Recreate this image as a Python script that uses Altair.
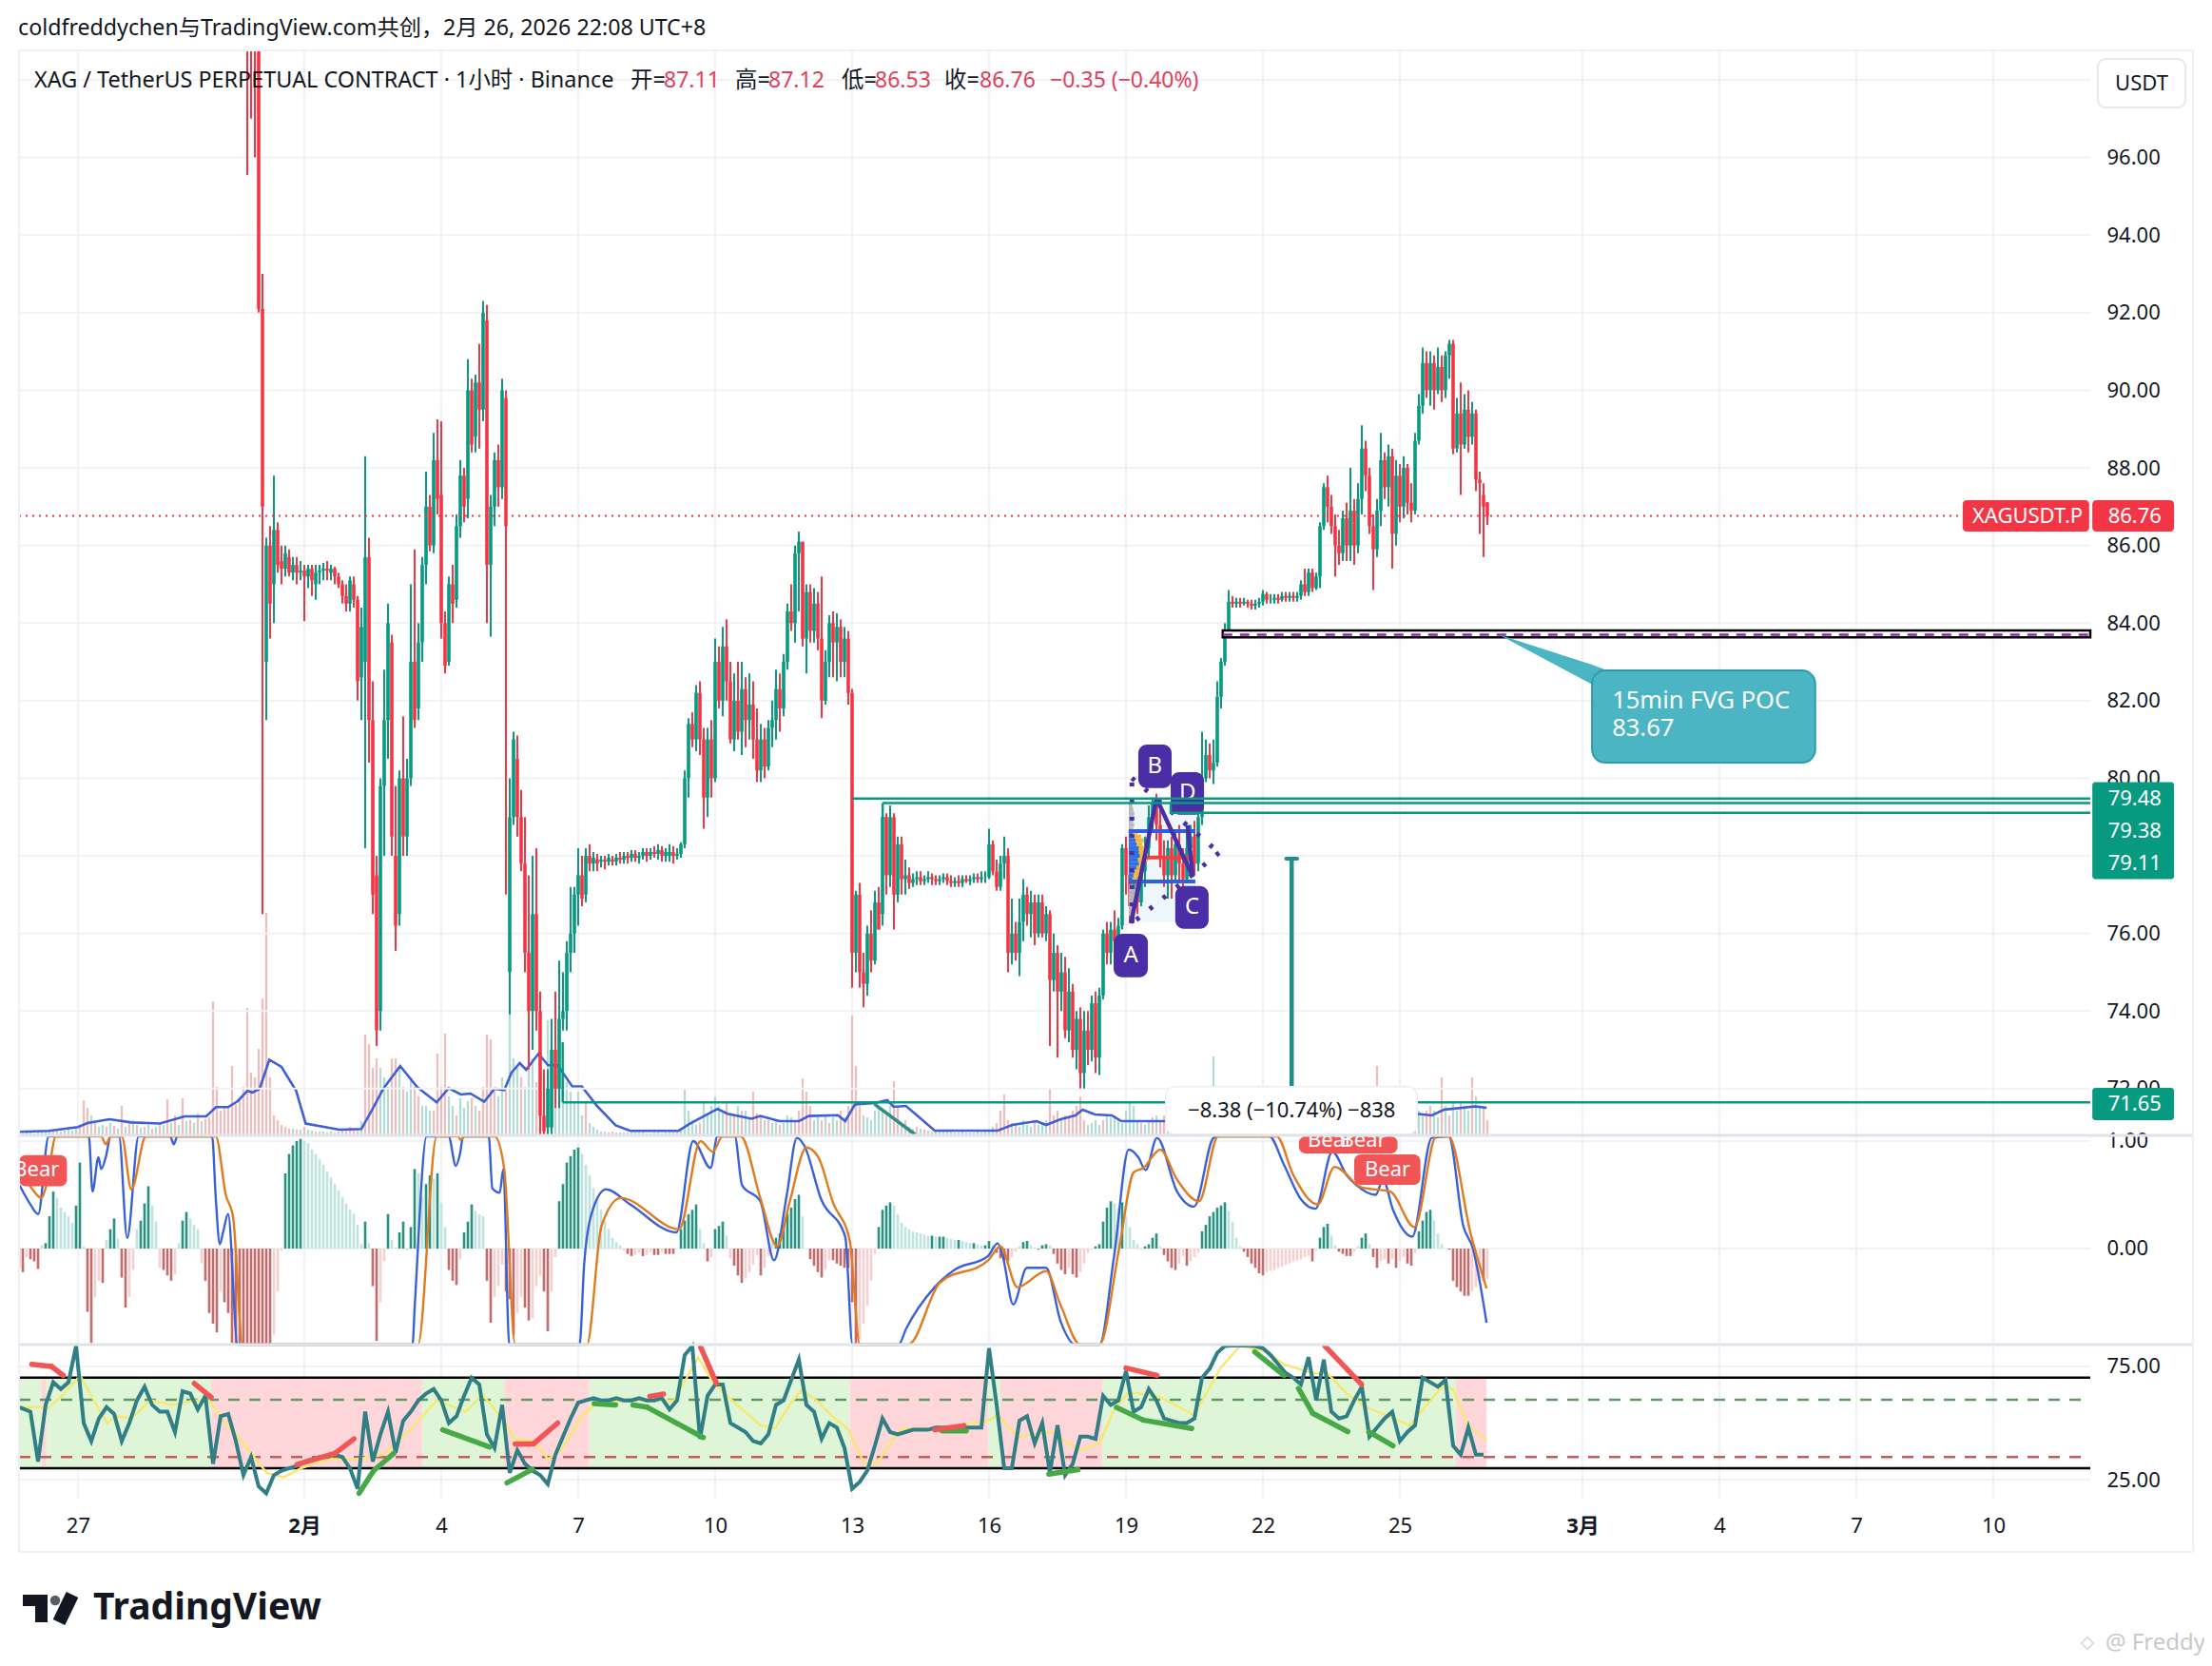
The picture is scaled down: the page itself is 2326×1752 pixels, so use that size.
import altair as alt
import pandas as pd

FONT = "Noto Sans, Noto Sans CJK SC"
UP, DOWN = "#089981", "#f23645"
TEAL = "#089981"

# ---- candles: one (open, close, low, high) every two hours, by calendar day
jan30 = [(106,100,95.55,112),(105,101,97,110),(104,99,96,108)]
jan31 = [(99,92.1,92,104),(92.1,87,76.5,93),(83,86,81.5,86.2),(86,84.5,83.6,86.5),(85,86.4,84,87.8),(86.4,85.5,85.3,86.6),(85.6,85.4,85,86),(85.4,85.8,85.2,86),(85.7,85.3,85.2,85.9),(85.3,85.5,85.1,85.7),(85.5,85.3,85,85.7),(85.3,85.35,85.1,85.6)]
feb01 = [(85.35,85.2,84.05,85.5),(85.2,85.4,84.9,85.5),(85.4,85.1,84.7,85.5),(85,85.3,84.6,85.5),(85.3,85.35,85,85.5),(85.35,85.4,85.1,85.55),(85.4,85.35,85.1,85.6),(85.3,85.4,85.1,85.5),(85.4,85.2,85,85.45),(85.2,85,84.9,85.3),(85,84.7,84.5,85.1),(84.7,84.5,84.3,85)]
feb02 = [(84.5,85.1,84.3,85.2),(85,84.6,84.4,85.2),(84.6,82.5,82,84.7),(82.6,83.9,81.5,84.4),(83,85.7,78.2,88.3),(85.7,81.5,80.4,86.2),(81.5,77,76.5,82.5),(77.5,73.5,73.1,78),(74,79.8,73.5,80),(79.8,81.5,78,82.8),(81.5,84,80.5,84.5),(83.5,78.5,78,83.7)]
feb03 = [(78,76.2,75.55,79.8),(76.5,80,76.2,80.2),(80,78.5,78,81.6),(78.5,80,78,80.5),(80,83,79.8,85),(83,81.5,81.3,85.9),(81.8,83.5,81.5,84),(83.5,85.5,83,85.7),(85.5,87,85,87.9),(87,86,85.85,87.3),(86,88.2,85.8,88.9),(88.2,87.2,86.8,89.25)]
feb04 = [(87.3,84,83.6,89.2),(84,82.9,82.7,84.3),(83,85,82.9,85.2),(85,84.5,84,85.5),(84.6,86.5,84.4,86.8),(86.5,87.8,86.2,88.2),(87.8,87,86.6,88),(87.2,90,86.7,90.8),(90,88.6,88.4,90.3),(88.8,90.2,88.4,90.4),(90.2,89.5,88.5,91.2),(89.5,92,89.2,92.3)]
feb05 = [(91.8,85.5,84,92.2),(85.5,87,83.65,87.3),(87,88.2,86.5,88.4),(88.2,87.5,87,88.6),(87.5,90,87.2,90.3),(89.8,86.5,77,90),(75,79,73.9,80),(79,81,78.8,81.2),(80.5,79,78.5,81.1),(79,77.8,77.6,79.7),(77.8,75.5,75,79),(75.5,74,72.5,77.5)]
feb06 = [(74,76.5,73,78),(76.5,74,73.5,78.2),(74,71.3,70,74.5),(71.3,70.9,70,72.5),(71,72,70.5,72.5),(71,73,70.5,73.8),(73,72,71.5,74.5),(72,73.8,71.5,75.3),(73.8,74,73.5,75),(74,75.5,73.5,75.8),(75.5,76,75,77.2),(76,77,75.5,77.2)]
feb07 = [(77,77.5,76.2,78.2),(77.5,76.9,76.7,78),(77,78,76.8,78.2),(78,77.8,77.6,78.3),(77.8,77.95,77.6,78.1),(77.9,77.8,77.6,78.05),(77.85,77.9,77.7,78),(77.9,77.85,77.65,78),(77.85,77.95,77.75,78.05),(77.9,77.85,77.75,78),(77.85,77.95,77.75,78.05),(77.95,77.9,77.8,78.1)]
feb08 = [(77.9,78,77.8,78.1),(78,77.95,77.8,78.1),(77.95,78.05,77.85,78.15),(78.05,77.95,77.85,78.15),(77.95,78,77.8,78.1),(78,78.1,77.9,78.2),(78.1,78,77.85,78.2),(78,78.1,77.9,78.2),(78.1,78.05,77.95,78.25),(78.05,78.15,77.9,78.3),(78.15,78,77.85,78.25),(78,78.1,77.85,78.2)]
feb09 = [(78,78.1,77.85,78.3),(78.1,78,77.8,78.25),(78,78.05,77.9,78.2),(78.05,78.3,77.95,78.35),(78.3,80,78.2,80.2),(80,81.4,79.5,81.55),(81.4,81,80.8,81.7),(81,82.2,80.7,82.4),(82.2,81,80.6,82.5),(81,79.5,78.7,81.3),(79.5,81,79,81.3),(81,80,79.5,81.5)]
feb10 = [(80,83,79.9,83.6),(83,82,81.8,83.4),(82,83.4,81.6,83.9),(83.4,82.5,82,84.1),(82.5,81,80.9,83),(81,82,80.7,82.7),(82,81.2,81,83),(81.2,82.3,80.6,83),(82.3,81.5,80.8,82.6),(81.5,81.9,81,82.7),(81.9,81,80.5,82.5),(81,80.2,79.9,81.8)]
feb11 = [(80.2,81,79.9,81.4),(81,80.3,80,81.3),(80.3,81.3,80.2,81.5),(81.3,81.5,80.8,82),(81.5,82.3,81,82.8),(82.3,81.8,81.2,82.7),(81.8,83,81.6,83.2),(83,84.3,82.8,84.5),(84.3,84,83.8,85),(84,85.8,83.5,86),(85.8,86.1,84.3,86.36),(86.1,83.6,83.4,86)]
feb12 = [(83.6,84.8,82.7,85),(84.8,83.8,83.5,85),(83.8,84.5,83.5,84.9),(84.5,83.6,83.3,84.8),(83.6,82,81.55,85.2),(82,83,81.9,83.3),(83,84,82.6,84.2),(84,83.5,82.6,84.3),(83.5,83.9,82.5,84.25),(83.9,83,82.6,84.1),(83,83.6,82.6,83.9),(83.6,82.2,81.9,83.8)]
feb13 = [(82.2,75.5,74.6,82.3),(75.5,77,75,77.1),(77,75,74.6,77.3),(75,74.7,74.1,75.5),(74.7,76,74.4,76.2),(76,75.3,75,76.6),(75.3,76.8,75.2,77.1),(76.8,76.1,76.1,77.2),(76.5,79,76.2,79.35),(79,77.5,77,79.1),(77.5,79,77.2,79.3),(79,77,76.1,79.1)]
feb14 = [(77,78.3,76.8,78.5),(78.3,77.4,77,78.5),(77.4,77.5,77,77.9),(77.5,77.3,77.15,77.7),(77.3,77.4,77.2,77.55),(77.4,77.45,77.25,77.6),(77.45,77.35,77.25,77.6),(77.35,77.4,77.25,77.5),(77.4,77.45,77.3,77.6),(77.45,77.4,77.25,77.55),(77.4,77.35,77.25,77.5),(77.35,77.4,77.25,77.5)]
feb15 = [(77.4,77.45,77.3,77.55),(77.45,77.35,77.25,77.55),(77.35,77.3,77.2,77.5),(77.3,77.35,77.2,77.45),(77.35,77.3,77.2,77.5),(77.3,77.4,77.2,77.5),(77.4,77.35,77.3,77.5),(77.35,77.4,77.25,77.5),(77.4,77.45,77.3,77.55),(77.45,77.4,77.3,77.55),(77.4,77.45,77.3,77.6),(77.45,77.45,77.3,77.6)]
feb16 = [(77.45,78.3,77.4,78.7),(78.3,77.6,77.5,78.4),(77.6,77.2,77.1,77.9),(77.2,77.8,77.1,78),(77.8,78,77.4,78.5),(78,75.5,75,78.2),(75.5,76,75.2,76.9),(76,75.5,75.3,76.3),(75.5,76.3,74.9,76.9),(76.3,77,75.8,77.4),(77,76.5,76.2,77.2),(76.5,76.8,75.9,77.1)]
feb17 = [(76.8,76,75.7,77),(76,76.8,75.9,77),(76.8,76,75.9,77),(76,76.5,75.8,76.7),(76.5,74.8,73.1,76.6),(74.8,75.5,74.5,76),(75.5,74.5,72.8,75.7),(74.5,75,74,75.5),(75,73.5,73.3,75.4),(73.5,74.5,73.2,75.1),(74.5,73,72.8,74.7),(73,73.8,72.5,74)]
feb18 = [(73.8,72.4,72,74.1),(72.4,73.5,72,74),(73.5,73,72.6,74),(73,74.2,72.7,74.4),(74.2,72.8,72.4,74.5),(72.8,74.4,72.35,74.6),(74.4,76,74.3,76.1),(76,75.5,75.2,76.3),(75.5,76.1,75.2,76.3),(76.1,75.8,75.3,76.6),(75.8,76.2,75.5,76.4),(76.2,78.2,76.1,78.3)]
feb19 = [(78.2,77.5,77,78.5),(77.5,76.7,76.3,78),(76.7,77.4,76.3,77.7),(77.4,76.8,76.5,77.8),(76.8,77.6,76.7,78),(77.6,78.2,77.2,78.5),(78.2,79,78,79.3),(79,79.4,78.6,79.5),(79.4,78.8,78.4,79.6),(78.8,78,77.7,79.2),(78,77.5,77.2,78.4),(77.5,78.2,76.9,78.4)]
feb20 = [(78.2,77.5,76.9,78.5),(77.5,78.3,77.3,78.6),(78.3,77.8,77.3,78.8),(77.8,77.4,77.1,78.2),(77.4,78.2,77.3,78.6),(78.2,78.5,77.5,78.8),(78.5,77.8,77.5,78.9),(77.8,79,77.6,79.2),(79,80,78.8,81.2),(80,80.6,79.9,81),(80.6,80.2,80,80.9),(80.2,80.4,79.85,81)]
feb21 = [(80.4,82.1,80.3,82.5),(82.1,83,81.8,83.1),(83,83.8,82.9,84),(83.8,84.55,83.7,84.85),(84.55,84.5,84.4,84.7),(84.5,84.55,84.4,84.65),(84.55,84.5,84.4,84.65),(84.5,84.55,84.45,84.65),(84.55,84.5,84.4,84.6),(84.5,84.45,84.35,84.6),(84.45,84.5,84.35,84.6),(84.5,84.55,84.4,84.65)]
feb22 = [(84.55,84.75,84.45,84.85),(84.75,84.6,84.5,84.8),(84.6,84.6,84.5,84.75),(84.6,84.65,84.5,84.75),(84.65,84.6,84.5,84.75),(84.6,84.7,84.55,84.8),(84.7,84.65,84.55,84.8),(84.65,84.7,84.55,84.8),(84.7,84.65,84.55,84.8),(84.65,84.7,84.55,84.8),(84.7,85,84.6,85.1),(85,84.8,84.7,85.4)]
feb23 = [(84.8,85.3,84.7,85.4),(85.3,84.9,84.8,85.4),(84.9,85.2,84.85,85.3),(85.2,86.5,84.9,86.6),(86.5,87.5,86.4,87.6),(87.5,87,86.6,87.8),(87,86.5,86.3,87.3),(86.5,86,85.2,86.8),(86,85.8,85.5,86.4),(85.8,86.7,85.6,86.9),(86.7,86,85.6,87.1),(86,86.9,85.6,88)]
feb24 = [(86.9,86,85.5,87.2),(86,87.2,85.8,87.6),(87.2,88.5,86.8,89.1),(88.5,87.8,87.4,88.7),(87.8,86.5,86.3,88),(86.5,85.9,84.85,86.8),(85.9,86.9,85.7,87.2),(86.9,88.2,86.5,88.9),(88.2,87.5,87.2,88.4),(87.5,88.3,87,88.6),(88.3,86.3,85.4,88.5),(86.3,87.8,86,88.2)]
feb25 = [(87.8,87,86.6,88.1),(87,88,86.7,88.3),(88,87.1,86.8,88.1),(87.1,86.9,86.6,87.6),(86.9,88.7,86.8,88.9),(88.7,89.6,88.6,89.9),(89.6,90.7,89.4,91.1),(90.7,90,89.8,91),(90,90.7,89.6,91),(90.7,90,89.5,90.9),(90,90.6,89.9,91.1),(90.6,90,89.7,90.9)]
feb26 = [(90,90.9,89.8,91),(90.9,91.2,90.3,91.3),(91.2,88.5,88.35,91.3),(88.5,89.4,88.4,89.8),(89.4,88.6,87.3,90.2),(88.6,89.5,88.5,89.9),(89.5,88.8,88.4,90),(88.8,89.4,88.6,89.7),(89.4,87.7,87.4,89.5),(87.7,87.6,86.3,87.9),(87.3,87,85.7,87.6),(87.11,86.76,86.53,87.12)]
candle_days = [jan30,jan31,feb01,feb02,feb03,feb04,feb05,feb06,feb07,feb08,feb09,feb10,feb11,feb12,feb13,feb14,feb15,feb16,feb17,feb18,feb19,feb20,feb21,feb22,feb23,feb24,feb25,feb26]

# ---- volume, every two hours (sign = candle direction)
vol_a = [1,-1,2, 2,1,-3,2,4,3,-3,4,3,-4,5,4, 7,-10,-36,-28,20,-12,8,10,-8,12,-9,6, -30,8,-12,15,-10,7,-8,10,-6,8,-11,10, -37,12,-20,10,-38,14,-15,12,-22,14,-16,-18, -140,-50,-25,-30,-28,-72,-32,-38,-50,-133,-65,-60, -90,-143,-233,-60,-20,-15,-10,-8,-6,6,-5,5]
vol_b = [-8,5,4,-3,3,3,-2,3,2,-3,4,-6, -8,-6,-5,14,-105,-95,-70,-80,70,60,50,-80, -80,70,-50,45,60,-50,-40,30,30,25,-25,-85, -50,-106,40,30,-20,38,28,35,-38,30,-25,-50, -105,-100,-45,40,60,-50,125,80,70,-60,50,110, 80,-55,-70,-60,120,110,90,60,70,55,45,35, 45,20,-35,12,8,5,-3,3,2,-3,2,2, 2,-2,2,2,-2,2,1,-1,2,2,-1,2, 2,2,-2,4,48,25,15,10,-12,35,22,30, 40,30,25,-35,20,-20,30,-25,25,18,-45,-22]
vol_c = [-20,15,-15,12,15,-10,12,20,18,-15,-25,-59, -45,-30,15,18,-15,20,-12,18,15,-25,18,-30, -125,-72,-30,20,18,15,25,30,25,-20,30,-56, -30,12,-15,8,6,-8,6,-5,4,3,-4,3, 3,3,-3,2,2,3,-2,2,2,3,2,-3, 5,8,-12,-25,-42,-15,12,-10,8,15,10,8, -15,10,12,15,-48,-20,-25,15,-20,-18,-25,-30, -40,-15,10,12,15,10,-15,20,18,20,15,12]
vol_d = [25,35,30,15,-12,10,15,-18,20,-15,-20,15, 15,-12,18,-10,15,12,-10,15,20,25,30,82, 40,30,20,15,12,-12,-8,-6,-5,-6,-5,-5, -5,4,-4,3,3,-3,3,3,-3,3,3,4, 4,-4,3,12,10,15,-12,-10,8,15,-14,-18, 18,25,20,15,-20,-15,-72,20,-25,30,-15,-15, 20,-45,18,12,-15,25,20,-25,-30,25,18,-60, 30,-20,35,25,-35,30,25,-60,40,30,-30,-15]
vol_ma_days = [-6.24,-5.6,-4.96,-4.75,-4.27,-3.79,-3.16,-2.625,-2.15,-1.935,-1.67,-1.46,-1.245,-1.14,-0.98,-0.767,-0.5,-0.18,0.03,0.77,1.25,1.516,1.73,2.1,2.47,2.68,2.9,3.16,3.43,3.64,3.94,4.17,4.38,4.54,4.72,4.86,5.13,5.34,5.55,5.87,6.08,6.4,6.82,7.14,8.2,8.42,9.05,9.27,9.8,9.99,10.41,10.84,11.05,11.69,11.85,12.06,12.49,12.77,12.91,13.18,13.81,15.19,15.51,16.04,16.25,16.57,16.89,17.05,17.32,17.69,17.9,18.8,20,22,23,24.32,24.7,24.96,25.65,25.9]
vol_ma_vals = [2.7,3.8,7.7,12,16,12.6,11.5,19,19,28.7,28.7,35,46,44,48,78.5,71,46,11.5,5,5.7,28.7,48,72,50,42,33.7,48.6,42,43,34.4,48,46.7,65,75,68,85,72.7,72.7,50.5,50.5,30.6,9.6,3.8,3.8,10.7,26.8,21.8,16.5,19.4,14,14,19.4,20.2,14,31.5,33,36,29,30,4,4,10,14,10,16,20,26,21,20,14,14,14,13,18,22,20,26,29.5,28]

# ---- MACD histogram (hundredths), two-hourly
hist_a = [-18,-22,-8, -10,-12,-19,3,5,30,53,47,38,34,30,24, 40,80,2,-59,-88,-45,-30,-32,8,18,28,9, -27,-55,-45,-20,18,26,42,58,40,25,-18,-20, -25,-30,-24,5,26,34,28,22,18,-14,-30,-60, -70,-78,-40,-50,-60,-88,-90,-90,-90,-90,-90,-90, -90,-90,-90,-90,-80,-40,-2,70,88,96,100,102]
hist_b = [100,98,92,88,83,78,72,66,60,54,48,42, 36,32,22,4,25,5,-35,-86,-50,-12,32,8, 1,15,25,-2,20,74,70,48,60,68,65,70, 42,20,-20,-30,-34,-10,15,25,41,35,32,30, -30,-69,-45,-35,-15,-40,-47,-80,-60,-45,-55,-67, -65,-35,-25,-40,-77,-40,-8,44,60,80,86,92, 94,88,78,68,56,46,36,26,18,10,6,3, -2,-5,-7,-6,-4,-7,-6,-3,-6,-6,-3,-5, -5,-5,0,18,26,32,36,41,18,5,-12,-8, 18,21,25,12,-9,-16,-25,-32,-28,-22,-15,-6]
hist_c = [-25,-18,-7,5,10,14,22,32,38,46,50,30, 0,-10,-16,-22,-27,-20,-11,-11,-14,-16,-18,-18, -50,-89,-85,-70,-53,-30,-5,20,36,40,43,40, 32,24,20,18,16,15,14,13,12,12,11,11, 11,10,9,8,8,7,6,5,5,4,3,3, 7,3,-4,-9,-11,-12,-8,-3,2,6,7,3, 1,-1,3,4,3,-5,-14,-20,-24,-18,-24,-27, -22,-14,-4,-1,2,4,25,38,44,42,38,43]
hist_d = [30,20,8,4,-1,2,4,10,14,2,-6,-12, -18,-20,-14,-7,-16,-12,-8,-4,16,22,30,34, 38,40,43,35,25,10,2,-3,-8,-14,-18,-23, -25,-22,-21,-20,-18,-17,-15,-14,-12,-11,-10,-8, -7,-12,-2,10,20,23,12,3,-3,-5,-7,-7, -3,2,10,14,4,-8,-18,-12,-10,-14,-10,-18, -12,-8,-14,-16,-4,16,26,34,36,26,14,4, 0,-1,-30,-36,-40,-44,-44,-40,-36,-28,-30,-28]

# ---- MACD lines
fast_days = [-6.24,-6,-5.83,-5.6,-4.72,-4.64,-4.51,-4.45,-4.35,-4.24,-4.06,-3.88,-3.63,-2.94,-2.86,-2.78,-2.02,-1.94,-1.85,-1.78,-1.67,-1.46,2.37,2.42,2.68,3.16,3.32,3.41,3.48,4.04,4.12,4.28,4.36,4.49,6.03,6.13,6.29,6.61,7.14,8.15,8.52,8.9,9.05,9.43,9.59,9.99,10.29,10.57,10.79,10.95,11.32,11.85,12.01,13.02,13.18,13.81,14.24,14.98,15.19,15.3,15.53,15.83,16.25,16.57,16.89,17.42,17.74,18.06,18.27,18.43,18.68,19.12,19.49,19.92,20.02,21.14,21.46,21.83,22.15,22.52,22.84,23.05,23.47,23.63,23.85,24.27,24.7,25.07,25.39,25.6,25.9]
fast_vals = [.59,.41,.32,1.05,1.05,.53,.85,.74,.85,1.05,1.05,.1,1.05,1.05,.97,1.05,1.05,.47,.04,.15,.32,-.9,-.9,-.53,1.05,1.05,.77,.88,1.05,1.05,.56,.52,.74,-.9,-.9,-.15,.32,.55,.41,.15,1.0,.75,1.05,1.05,.59,.44,-.11,.5,1.03,.96,.46,.11,-.9,-.9,-.75,-.36,-.2,-.07,.05,-.07,-.52,-.18,-.18,-.68,-.9,-.9,-.07,.92,.85,.73,1.03,.53,.39,1.03,1.05,1.05,.78,.46,.37,.9,.68,.59,.5,.64,.36,.11,1.03,1.05,.21,0,-.69]
slow_days = [-6.24,-5.97,-5.76,-5.65,-5.44,-4.45,-4.35,-4.24,-4,-3.79,-3.47,-1.94,-1.72,-1.56,-1.35,2.49,2.9,3.37,3.43,3.51,4.17,4.38,4.62,6.19,6.51,6.93,8.21,8.68,8.95,9.16,9.56,9.99,10.36,10.63,11,11.26,11.58,11.95,12.17,13.23,13.92,14.98,15.25,15.62,16.25,16.57,17,17.42,17.85,18.17,18.38,18.75,19.12,19.6,20.02,21.3,21.67,22.2,22.57,23.16,23.79,24.32,24.8,25.07,25.55,25.9]
slow_vals = [.74,.56,.47,.59,1.05,1.05,.97,1.05,1.05,.55,1.05,1.05,.5,.29,-.9,-.9,1.05,1.05,1.01,1.05,1.05,.74,-.9,-.9,.21,.47,.18,1.0,.9,1.05,1.05,.47,.02,.43,.94,.85,.43,.07,-.9,-.9,-.32,-.11,.02,-.36,-.21,-.53,-.9,-.9,0,.71,.75,.92,.64,.44,1.05,1.05,.68,.41,.76,.57,.53,.2,1.05,1.05,.14,-.37]

# ---- RSI, four-hourly rows by day, from Jan 26
rsi_head = [57,56]
rsi_rows = [55,33,58,68,65,68, 84,50,42,52,57,54, 42,50,60,66,58,55, 55,46,64,63,56,62, 32,53,54,42,27,35, 22,19,27,29,30,31, 33,34,35,35,36,35, 30,21,55,33,45,55, 37,51,55,60,63,65, 60,50,53,62,70,67, 45,39,58,28,38,32, 29,27,23,36,44,52, 59,60,61,60,60,61, 60,60,61,60,60,61, 56,60,80,84,43,62, 67,67,50,48,46,42, 41,45,58,60,69,78, 58,55,43,50,48,39, 21,24,29,40,52,46, 45,46,47,47,47,48, 48,48,47,48,48,48, 83,58,30,30,51,53, 41,50,28,49,27,32, 44,44,43,62,58,60, 73,55,57,65,60,52, 51,50,50,52,70,74, 81,84,86,86,85,84, 83,80,76,72,70,67, 79,60,78,55,52,53, 60,66,44,48,52,55, 42,46,49,70,68,66, 69,40,36,48,36,36]
rsi_ma_days = [-6.24,-5.6,-5.28,-4.91,-4.64,-4.32,-4.11,-3.79,-3.37,-2.89,-2.41,-2.09,-1.78,-1.46,-1.14,-0.82,-0.45,-0.08,0.56,1.09,1.73,1.99,2.37,2.9,3.53,3.9,4.38,4.6,5.02,5.34,5.66,6.08,6.4,7.14,8.1,8.63,8.95,9.37,9.99,10.31,10.63,10.89,11.26,11.58,11.9,12.27,12.54,13.07,13.81,14.98,15.19,15.62,16.36,17,17.42,17.74,18.06,18.7,19.49,20.08,20.5,21.03,21.46,22.09,22.41,22.84,23.26,24.22,24.96,25.17,25.49,25.9]
rsi_ma_vals = [57,57,62.5,71,61,50,53,52,60,58,60,60,51,44,36,28,26,30,34,34,36,41,48,60,55,62.5,51,43,42,34,39,53,59,60,60,79,68,60,49,47.6,58,64.5,59.4,52.6,47.6,32,32,47.6,47.6,51,53.5,44,46,38,41,56,63.6,62,53.5,74.6,84,82,76,72,72,63,57,49,67,64.5,49,42.5]
zone_edges = [-6.24,-5.76,-5.65,-2.04,2.58,4.38,6.24,11.95,14.98,15.25,17.48,25.23,25.9]
zone_kinds = ["g","r","g","r","g","r","g","r","g","r","g","r"]
div_green = [[(1.2,19),(1.52,29),(1.96,36.6)],[(3.03,47),(4.06,39.4)],[(4.44,23.6),(5,29.6)],[(6.35,58.6),(6.82,58)],[(7.2,58),(7.51,57),(8.74,43.6)],[(13.97,46.5),(14.5,46.5)],[(16.31,27.4),(16.95,29.4)],[(17.79,56.9),(18.38,51.3),(19.44,47.6)],[(20.82,81.4),(21.46,71)],[(21.78,65.3),(22.09,54.3),(22.86,46.2)],[(23.32,46.2),(23.85,40)]]
div_red = [[(-5.97,75.9),(-5.54,75),(-5.28,71)],[(-2.41,67.5),(-2.04,61.4)],[(-0.16,31.7),(0.67,36.6),(1.09,43)],[(4.62,40.8),(5.02,40.8),(5.55,50)],[(7.57,61.8),(7.87,62.8)],[(8.68,83.6),(9.03,67.5)],[(13.81,47),(14.45,48.9)],[(18,74.3),(18.68,71)],[(22.36,83.9),(23.16,67)]]

# ---- tick labels
price_ticks = [72,74,76,80,82,84,86,88,90,92,94,96]
price_grid = [72,74,76,78,80,82,84,86,88,90,92,94,96,98]
macd_ticks = [0,1]
rsi_ticks = [25,75]
x_ticks = [-4.96,0,3,6,9,12,15,18,21,24,28,31,34,37]
x_label_expr = "datum.value<-1?'27':datum.value==0?'2月':datum.value<28?''+(datum.value+1):datum.value==28?'3月':''+(datum.value-27)"

# ---- levels & annotations
last_price = 86.76
levels = [(12.0,79.48),(12.67,79.36),(18.98,79.11),(5.66,71.65)]
level_labels = [("79.48",79.48),("79.38",78.64),("79.11",77.81),("71.65",71.61)]
vp_prices = [78.6,78.5,78.4,78.3,78.2,78.1,78,77.9,77.8,77.7,77.6,77.5,77.4]
vp_yellow = [.2,.27,.33,.3,.38,.42,.36,.42,.36,.33,.3,.24,.2]
vp_blue = [.08,.12,.15,.17,.22,.22,.24,.2,.22,.17,.13,.1,.08]
vp_gray_prices = [79.3,79.2,79.1,79,78.9,78.8,78.7,77.2,77.1,77,76.9,76.8,76.7,76.6,76.5]
vp_gray = [.08,.1,.12,.12,.1,.12,.1,.12,.14,.16,.14,.12,.14,.1,.08]

X_LEFT, X_RIGHT = -6.25, 39.125
X_SCALE = alt.Scale(domain=[X_LEFT, X_RIGHT], range=[12, 2190])
S_PRICE = alt.Scale(domain=[70.82, 98.76], range=[1185, 45], clamp=True)
S_TAGS = alt.Scale(domain=[70.82, 98.76], range=[1185, 45], clamp=True)
S_VOL = alt.Scale(domain=[0, 1140], range=[1185, 45], clamp=True)
S_MACD = alt.Scale(domain=[-0.894, 1.044], range=[1406, 1187], clamp=True)
S_RSI = alt.Scale(domain=[16.2, 84.2], range=[1569, 1407], clamp=True)

COMMON = dict(domain=False, ticks=False, grid=False, title=None, labelFont=FONT, labelFontSize=22,
              labelColor="#131722", labelOverlap=False, labelFlush=False)
x_axis = alt.Axis(values=x_ticks, orient="bottom", offset=-167, labelPadding=17, labelExpr=x_label_expr,
                  labelFontWeight={"condition": {"test": "datum.value==0||datum.value==28", "value": "bold"}, "value": "normal"},
                  **COMMON)
Y_AXES = {id(S_PRICE): alt.Axis(values=price_ticks, orient="right", offset=-120, format=".2f", labelPadding=17, **COMMON),
          id(S_MACD): alt.Axis(values=macd_ticks, orient="right", offset=-120, format=".2f", labelPadding=17, **COMMON),
          id(S_RSI): alt.Axis(values=rsi_ticks, orient="right", offset=-120, format=".2f", labelPadding=17, **COMMON)}
X = alt.X("x:Q", scale=X_SCALE, axis=x_axis)


def Yq(scale):
    return alt.Y("y:Q", scale=scale, axis=Y_AXES.get(id(scale), None))


def vrules(df, scale, width, opacity=1):
    return alt.Chart(df).mark_rule(strokeWidth=width, opacity=opacity, strokeCap="butt").encode(
        x=X, y=Yq(scale), y2="y2:Q", color=alt.Color("c:N", scale=None))


def segs(rows, scale, color, width, dash=None, cap="butt"):
    df = pd.DataFrame(rows, columns=["x", "y", "x2", "y2"])
    kw = {"strokeDash": dash} if dash else {}
    return alt.Chart(df).mark_rule(color=color, strokeWidth=width, strokeCap=cap, **kw).encode(
        x=X, y=Yq(scale), x2="x2:Q", y2="y2:Q")


def hline(vals, scale, color, width, x1=X_LEFT, x2=X_RIGHT, dash=None):
    return segs([(x1, v, x2, v) for v in vals], scale, color, width, dash)


def poly(days, vals, scale, color, width, interp="linear"):
    df = pd.DataFrame({"x": days, "y": vals})
    return alt.Chart(df).mark_line(color=color, strokeWidth=width, interpolate=interp).encode(x=X, y=Yq(scale))


def box(rows, scale, fill, stroke=None, radius=0, sw=0, opacity=1):
    df = pd.DataFrame(rows, columns=["x", "x2", "y", "y2"])
    kw = {"stroke": stroke, "strokeWidth": sw} if stroke else {}
    return alt.Chart(df).mark_rect(fill=fill, cornerRadius=radius, opacity=opacity, **kw).encode(
        x=X, x2="x2:Q", y=Yq(scale), y2="y2:Q")


def labels(rows, scale, color="white", size=22, align="center", weight="normal"):
    df = pd.DataFrame(rows, columns=["x", "y", "t"])
    return alt.Chart(df).mark_text(color=color, fontSize=size, align=align, baseline="middle", font=FONT, fontWeight=weight).encode(
        x=X, y=Yq(scale), text="t:N")


def page_text(s, x, y, color="#131722", size=22, weight="normal", align="left"):
    return alt.Chart().mark_text(color=color, fontSize=size, fontWeight=weight, align=align, baseline="middle", font=FONT).encode(
        x=alt.value(x - 8), y=alt.value(y - 8), text=alt.value(s))


def page_rule(x1, y1, x2, y2, color, width):
    return alt.Chart().mark_rule(color=color, strokeWidth=width).encode(
        x=alt.value(x1 - 8), x2=alt.value(x2 - 8), y=alt.value(y1 - 8), y2=alt.value(y2 - 8))


def page_rect(x1, y1, x2, y2, fill, stroke=None, radius=0):
    kw = {"stroke": stroke, "strokeWidth": 2} if stroke else {"strokeWidth": 0}
    return alt.Chart().mark_rect(fill=fill, cornerRadius=radius, **kw).encode(
        x=alt.value(x1 - 8), x2=alt.value(x2 - 8), y=alt.value(y1 - 8), y2=alt.value(y2 - 8))


# tables built from the arrays
bars = [b for day in candle_days for b in day]
cd = pd.DataFrame(bars, columns=["o", "c_", "l", "h"])
cd["x"] = [-1.25 + i / 12 for i in range(len(cd))]
cd["c"] = [UP if r.c_ >= r.o else DOWN for r in cd.itertuples()]
wick = cd.assign(y=cd.l, y2=cd.h)
body = cd.assign(y=cd.o, y2=cd.c_)

vols = vol_a + vol_b + vol_c + vol_d
vd = pd.DataFrame({"x": [-6.25 + i / 12 for i in range(len(vols))],
                   "y": [abs(v) for v in vols], "y2": 0,
                   "c": ["#a9d8d2" if v > 0 else "#f3b4b4" for v in vols]})

hists = [v / 100 for v in hist_a + hist_b + hist_c + hist_d]
hcol = []
for i, v in enumerate(hists):
    prev = hists[i - 1] if i else 0
    grow = abs(v) >= abs(prev)
    hcol.append(("#26917f" if grow else "#bfe3de") if v >= 0 else ("#c46a6a" if grow else "#f6cfcf"))
hd = pd.DataFrame({"x": [-6.25 + i / 12 for i in range(len(hists))], "y": hists, "y2": 0, "c": hcol})

rsi_days = [-6.25, -6.125] + [-6 + i / 6 for i in range(len(rsi_rows))]
rsi_vals = rsi_head + rsi_rows

zone_rows = [(zone_edges[i], zone_edges[i + 1], 70, 30) for i in range(len(zone_kinds))]
z_green = [r for r, k in zip(zone_rows, zone_kinds) if k == "g"]
z_red = [r for r, k in zip(zone_rows, zone_kinds) if k == "r"]


def div_rows(groups):
    return [(a[0], a[1], b[0], b[1]) for g in groups for a, b in zip(g, g[1:])]


def xrow(vals, length):
    return pd.DataFrame({"y": vals, "x": 18.06, "x2": [18.06 + v for v in length]})


grid = alt.Chart(pd.DataFrame({"x": x_ticks})).mark_rule(color="#f1f2f5", strokeWidth=2).encode(
    x=X, y=alt.value(45), y2=alt.value(1569))

vol_layer = alt.layer(
    vrules(vd, S_VOL, 2.2, 0.9),
    poly(vol_ma_days, vol_ma_vals, S_VOL, "#3f5fd6", 2.6),
)

price_layer = alt.layer(
    hline(price_grid, S_PRICE, "#f1f2f5", 2),
    box([(18.06, 19.52, 79.28, 76.29)], S_PRICE, "#eef7fb"),
    vrules(wick, S_PRICE, 2),
    vrules(body, S_PRICE, 3.6),
    hline([last_price], S_PRICE, DOWN, 2, x2=36.33, dash=[2, 5]),
    alt.Chart(xrow(vp_gray_prices, vp_gray)).mark_rule(color="#b9b9b9", strokeWidth=4).encode(x=X, x2="x2:Q", y=Yq(S_PRICE)),
    alt.Chart(xrow(vp_prices, vp_yellow)).mark_rule(color="#f3b93c", strokeWidth=4).encode(x=X, x2="x2:Q", y=Yq(S_PRICE)),
    alt.Chart(xrow(vp_prices, vp_blue)).mark_rule(color="#2f6fe8", strokeWidth=4).encode(x=X, x2="x2:Q", y=Yq(S_PRICE)),
    hline([78.64, 77.34], S_PRICE, "#2f5fe0", 4, x1=18.06, x2=19.52),
    hline([77.96], S_PRICE, "#f04040", 4, x1=18.38, x2=19.52),
    box([(17.73, 18.48, 75.99, 74.87), (18.27, 19, 80.87, 79.75), (18.98, 19.71, 80.16, 79.06), (19.08, 19.81, 77.22, 76.12)], S_PRICE, "#4a2ea6", radius=9),
    labels([(18.11, 75.43, "A"), (18.63, 80.31, "B"), (19.35, 79.61, "D"), (19.45, 76.67, "C")], S_PRICE, size=24),
    segs([(18.13, 76.26, 18.13, 80.01), (18.13, 80.01, 20.04, 78.08), (20.04, 78.08, 18.13, 76.26)], S_PRICE, "#4a2ea6", 5, dash=[4, 14]),
    segs([(18.11, 76.26, 18.67, 79.48), (18.67, 79.48, 19.46, 77.47), (19.46, 77.47, 19.35, 78.79)], S_PRICE, "#4a2ea6", 4.5),
    segs([(l[0], l[1], X_RIGHT, l[1]) for l in levels], S_PRICE, TEAL, 2.5),
    segs([(12.67, 79.36, 12.67, 78.95), (5.66, 71.65, 5.66, 73.2), (18.98, 79.11, 18.98, 79.35)], S_PRICE, TEAL, 2.5),
    segs([(12.49, 71.6, 13.38, 70.82)], S_PRICE, "#2e8c8c", 3.5),
    # fair value gap box
    box([(20.12, X_RIGHT, 83.81, 83.63)], S_PRICE, "#ffffff", stroke="#000000", sw=2.5),
    hline([83.7], S_PRICE, "#8e2aa6", 2.5, x1=20.12, dash=[10, 8]),
    # callout
    alt.Chart(pd.DataFrame({"x": [26.17, 28.21, 28.54], "y": [83.7, 82.93, 82.78], "y2": [83.7, 82.42, 82.42]})).mark_area(color="#4cb5c3", line=False).encode(x=X, y=Yq(S_PRICE), y2="y2:Q"),
    box([(28.21, 33.1, 82.78, 80.4)], S_PRICE, "#4cb5c3", stroke="#2d9dab", radius=14, sw=2),
    labels([(28.65, 82.0, "15min FVG POC"), (28.65, 81.29, "83.67")], S_PRICE, size=25.5, align="left"),
    # measure
    segs([(21.63, 71.8, 21.63, 77.93)], S_PRICE, "#1e9088", 4.5),
    segs([(21.51, 77.93, 21.75, 77.93)], S_PRICE, "#1e9088", 4, cap="round"),
)

macd_layer = alt.layer(
    hline([0, 1], S_MACD, "#f1f2f5", 2),
    alt.Chart(hd).mark_rule(strokeWidth=2.6, strokeCap="butt").encode(x=X, y=Yq(S_MACD), y2="y2:Q", color=alt.Color("c:N", scale=None)),
    poly(fast_days, fast_vals, S_MACD, "#3a62d6", 2.4, "monotone"),
    poly(slow_days, slow_vals, S_MACD, "#e07b20", 2.4, "monotone"),
    box([(-6.25, -5.2, 0.87, 0.58), (23, 24.45, 0.876, 0.593), (21.79, 23.31, 1.044, 0.885), (22.68, 23.95, 1.044, 0.885)], S_MACD, "#f25555", radius=7),
    labels([(-5.87, 0.735, "Bear"), (23.73, 0.735, "Bear"), (22.48, 1.01, "Bear"), (23.2, 1.01, "Bear")], S_MACD, size=22),
)

rsi_layer = alt.layer(
    hline([75, 25], S_RSI, "#f1f2f5", 2),
    box(z_green, S_RSI, "#dff5d8"),
    box(z_red, S_RSI, "#ffd6da"),
    hline([60.3], S_RSI, "#5f9a62", 2.5, dash=[12, 10]),
    hline([35], S_RSI, "#c95a5a", 2.5, dash=[12, 10]),
    hline([70, 30], S_RSI, "#000000", 2.5),
    poly(rsi_ma_days, rsi_ma_vals, S_RSI, "#f6e96b", 2.4),
    poly(rsi_days, rsi_vals, S_RSI, "#2f7f84", 4),
    segs(div_rows(div_green), S_RSI, "#46a846", 5.5, cap="round"),
    segs(div_rows(div_red), S_RSI, "#f25555", 5.5, cap="round"),
)

# right-hand price tags, measure box (drawn above every pane)
tags = alt.layer(
    box([(18.87, 24.38, 72.05, 70.82)], S_TAGS, "#ffffff", stroke="#eeeeee", radius=10, sw=1.5),
    labels([(21.63, 71.44, "−8.38 (−10.74%) −838")], S_TAGS, color="#131722", size=22),
    box([(36.33, 39.1, 87.17, 86.36)], S_TAGS, DOWN, radius=4),
    box([(39.17, 40.96, 87.17, 86.36)], S_TAGS, DOWN, radius=4),
    box([(39.17, 40.96, 79.9, 77.4), (39.17, 40.96, 72.02, 71.19)], S_TAGS, TEAL, radius=3),
    labels([(37.75, 86.76, "XAGUSDT.P"), (40.1, 86.76, "86.76")] + [(40.1, p, t) for t, p in level_labels], S_TAGS, size=22),
)

chrome = alt.layer(
    page_rule(20, 1194, 2306, 1194, "#e0e3eb", 3),
    page_rule(20, 1414, 2306, 1414, "#e0e3eb", 3),
    page_rect(0, 1190, 20, 1420, "#ffffff"),
    page_rule(20, 53, 2306, 53, "#eff0f3", 2),
    page_rule(20, 53, 20, 1632, "#eff0f3", 2),
    page_rule(2306, 53, 2306, 1632, "#eff0f3", 2),
    page_rule(20, 1632, 2306, 1632, "#eff0f3", 2),
    page_text("coldfreddychen与TradingView.com共创，2月 26, 2026 22:08 UTC+8", 19, 30, size=23.2),
    page_text("XAG / TetherUS PERPETUAL CONTRACT · 1小时 · Binance", 36, 85, size=23.4),
    page_text("开=", 663, 85, size=23.4),
    page_text("87.11", 698, 85, "#e0405a", 23),
    page_text("高=", 773, 85, size=23.4),
    page_text("87.12", 808, 85, "#e0405a", 23),
    page_text("低=", 885, 85, size=23.4),
    page_text("86.53", 920, 85, "#e0405a", 23),
    page_text("收=", 993, 85, size=23.4),
    page_text("86.76", 1030, 85, "#e0405a", 23),
    page_text("−0.35 (−0.40%)", 1104, 85, "#e0405a", 23),
    page_rect(2206, 62, 2298, 113, "#ffffff", "#e6e8ee", 8),
    page_text("USDT", 2252, 88, size=22, align="center"),
    page_rect(24, 1677, 50, 1689, "#131722"),
    page_rect(37, 1677, 50, 1706, "#131722"),
    alt.Chart().mark_circle(color="#131722", size=110).encode(x=alt.value(50), y=alt.value(1675)),
    page_rule(76, 1677, 62, 1706, "#131722", 14),
    page_text("TradingView", 98, 1691, size=39, weight="bold"),
    page_text("@ Freddy", 2214, 1728, "#c9c9c9", 24),
    alt.Chart().mark_point(shape="diamond", color="#d5d5d5", size=160, strokeWidth=2).encode(x=alt.value(2187), y=alt.value(1720)),
)

chart = alt.layer(grid, vol_layer, price_layer, macd_layer, rsi_layer, tags, chrome).resolve_scale(y="independent").properties(
    width=2310, height=1736, padding=0, autosize=alt.AutoSizeParams(type="none"), background="#ffffff"
).configure_view(stroke=None)

chart.save("out.html", embed_options={"renderer": "svg", "actions": False})
